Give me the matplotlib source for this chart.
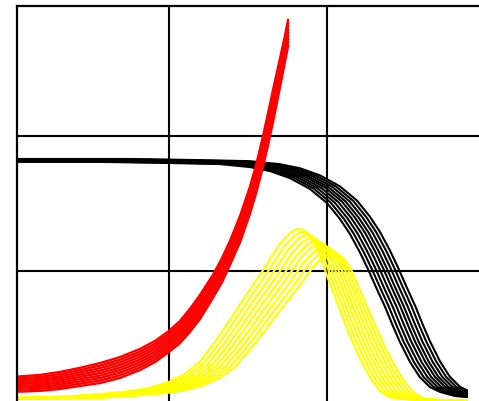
import matplotlib
matplotlib.use("Agg")
import matplotlib.pyplot as plt
from matplotlib.patches import Rectangle
import numpy as np

# --- data (x in days, y as fraction) ---
# red: the two outer runs of the fan, the others lie at fixed steps between them
red_t = [0, 9.2, 15.5, 21.8, 28.2, 34.5, 40.8, 45.6, 50.0, 53.5, 56.6, 59.8, 63.9,
         66.8, 69.3, 72.5, 75.6, 77.5, 79.4, 81.3, 83.2, 85.1, 86.7, 87.7]
red_upper = [0.107, 0.115, 0.126, 0.141, 0.159, 0.181, 0.211, 0.241, 0.278, 0.315,
             0.359, 0.411, 0.485, 0.548, 0.611, 0.704, 0.811, 0.889, 0.981, 1.081,
             1.185, 1.285, 1.370, 1.430]
red_lower = [0.052, 0.056, 0.063, 0.074, 0.085, 0.104, 0.133, 0.163, 0.200, 0.233,
             0.274, 0.322, 0.400, 0.459, 0.522, 0.607, 0.711, 0.785, 0.870, 0.963,
             1.067, 1.178, 1.274, 1.333]
red_steps = [0.0, 0.125, 0.25, 0.375, 0.5, 0.625, 0.75, 0.875, 1.0]

# black and yellow: earliest run, the later runs are the same curve moved
# right (days) and scaled
black_t = [-15, 0, 28.2, 50.0, 66.1, 75.6, 82.0, 88.3, 94.6, 100.0, 104.1, 107.3,
           110.4, 113.0, 115.5, 118.4, 120.9, 123.1, 126.3, 129.4, 132.6, 135.8,
           140.5, 144.6]
black_y = [0.904, 0.904, 0.904, 0.900, 0.896, 0.885, 0.870, 0.844, 0.804, 0.752,
           0.693, 0.637, 0.570, 0.507, 0.441, 0.367, 0.296, 0.237, 0.163, 0.107,
           0.070, 0.052, 0.037, 0.033]
black_shift = [0.0, 1.2, 2.4, 3.6, 4.8, 5.9, 7.1, 8.3, 9.5]
black_scale = [1.0, 1.0015, 1.003, 1.0045, 1.006, 1.0075, 1.009, 1.0105, 1.012]

yellow_t = [-15, 0, 17.7, 28.2, 38.6, 44.0, 50.0, 55.1, 59.8, 64.6, 69.3, 74.1,
            79.4, 82.0, 85.1, 88.3, 90.5, 92.4, 94.0, 95.6, 97.2, 98.7, 100.3,
            102.5, 105.1, 107.3, 109.8, 112.0, 114.2, 116.8, 119.3, 121.8, 126.3,
            135.8, 144.6]
yellow_y = [0.030, 0.030, 0.035, 0.044, 0.056, 0.067, 0.089, 0.119, 0.163, 0.237,
            0.319, 0.404, 0.496, 0.544, 0.600, 0.641, 0.656, 0.652, 0.637, 0.611,
            0.574, 0.526, 0.474, 0.407, 0.326, 0.259, 0.193, 0.141, 0.096, 0.056,
            0.035, 0.028, 0.024, 0.022, 0.022]
yellow_shift = [0.0, 1.35, 2.7, 4.05, 5.4, 6.75, 8.1, 9.45, 10.8]
yellow_scale = [1.0, 0.983, 0.966, 0.949, 0.932, 0.916, 0.899, 0.882, 0.865]

t_end = 144.6
x_lim = (1.9, 149.4)
y_lim = (0.011, 1.4815)
x_grid = [50, 100]
y_grid = [0.5, 1.0]

fig = plt.figure(figsize=(4.79, 4.01), dpi=100)
ax = fig.add_axes([17 / 479, -2 / 401, 466 / 479, 397 / 401])

ax.set_xlim(*x_lim)
ax.set_ylim(*y_lim)


def shifted_runs(t, y, shifts, scales, color, lw):
    t = np.asarray(t)
    y = np.asarray(y)
    for d, k in zip(shifts, scales):
        line, = ax.plot(t + d, y * k, color=color, lw=lw)
        # every run stops at the same final day, and stays inside the frame
        box = Rectangle((x_lim[0], y_lim[0] - 0.05), t_end - x_lim[0],
                        y_lim[1] - y_lim[0] + 0.1, transform=ax.transData)
        line.set_clip_path(box)


shifted_runs(black_t, black_y, black_shift, black_scale, "black", 1.5)
shifted_runs(yellow_t, yellow_y, yellow_shift, yellow_scale, "#ffff00", 1.6)

lo = np.asarray(red_lower)
hi = np.asarray(red_upper)
for w in red_steps:
    ax.plot(red_t, (1 - w) * lo + w * hi, color="#ff0000", lw=1.7)

ax.set_xticks(x_grid)
ax.set_yticks(y_grid)
ax.tick_params(length=0, labelbottom=False, labelleft=False)
ax.grid(True, color="black", lw=1.5)
ax.set_axisbelow(True)

for side in ["top", "left"]:
    ax.spines[side].set_linewidth(1.6)
    ax.spines[side].set_color("black")
for side in ["right", "bottom"]:
    ax.spines[side].set_visible(False)

fig.savefig("out.png", dpi=100)
